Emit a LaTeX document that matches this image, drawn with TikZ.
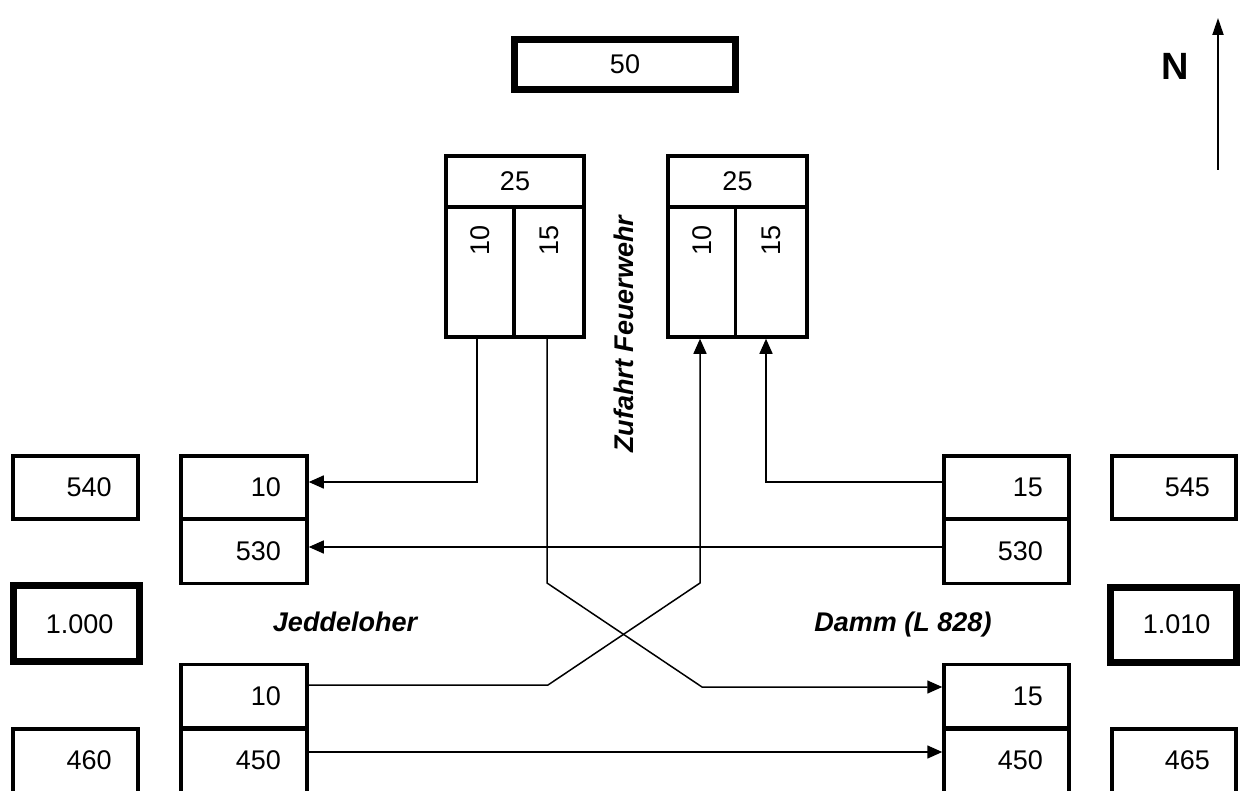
\documentclass[tikz,border=0pt]{standalone}
\usepackage{fontspec}
\setmainfont{Liberation Sans}
\usetikzlibrary{arrows.meta,calc}
\begin{document}
\begin{tikzpicture}[x=1pt,y=-1pt,
  every node/.style={font=\fontsize{27}{32}\selectfont},
  numbox/.style={draw, line width=3.5pt, inner xsep=26pt, inner ysep=0pt, text width=73pt, align=right, minimum height=63pt},
  thickbox/.style={numbox, line width=7pt, text width=74pt, minimum height=76pt},
  openbox/.style={numbox, anchor=north, minimum height=0pt, text height=41pt, text depth=80pt},
  cellbox/.style={draw, line width=3.5pt, inner sep=0pt},
  lbl/.style={font=\fontsize{27}{32}\selectfont\bfseries\itshape},
  conn/.style={line width=1.5pt},
  arr/.style={conn, -{Triangle[length=15pt,width=13pt]}},
]
\useasboundingbox (0,0) rectangle (1241,791);
\clip (0,0) rectangle (1241,791);

% top box
\node[draw, line width=6.5pt, minimum width=221pt, minimum height=50pt, inner sep=0pt] (b50) at (625,64.6) {50};

% left 25 box
\node[cellbox, minimum width=138pt, minimum height=51pt] (lh) at (515,181.5) {25};
\node[cellbox, minimum width=68pt, minimum height=130pt] (lc1) at (480,272) {};
\node[cellbox, minimum width=70pt, minimum height=130pt] (lc2) at (549,272) {};
\node[rotate=90, anchor=east, inner sep=0pt] (lt1) at ($(lc1.north)+(0,20)$) {10};
\node[rotate=90, anchor=east, inner sep=0pt] (lt2) at ($(lc2.north)+(0,20)$) {15};

% right 25 box
\node[cellbox, minimum width=139pt, minimum height=51pt] (rh) at (737.5,181.5) {25};
\node[cellbox, minimum width=67.5pt, minimum height=130pt] (rc1) at (701.75,272) {};
\node[cellbox, minimum width=71.5pt, minimum height=130pt] (rc2) at (771.25,272) {};
\node[rotate=90, anchor=east, inner sep=0pt] (rt1) at ($(rc1.north)+(0,20)$) {10};
\node[rotate=90, anchor=east, inner sep=0pt] (rt2) at ($(rc2.north)+(0,20)$) {15};

% labels
\node[lbl, rotate=90] (zf) at (624,334) {Zufahrt Feuerwehr};
\node[lbl, anchor=base] (jd) at (345,631) {Jeddeloher};
\node[lbl, anchor=base] (dm) at (903,631) {Damm (L 828)};

% north arrow
\node[font=\fontsize{38}{44}\selectfont\bfseries] (N) at (1175,66) {N};
\coordinate (ns) at (1218,170);
\coordinate (nn) at (1218,18);
\draw[line width=2pt, -{Triangle[length=17pt,width=11pt]}] (ns) -- (nn);

% left boxes
\node[numbox] (l540) at (75.25,487.5) {540};
\node[numbox, text width=74pt] (l10) at (244,487.5) {10};
\node[numbox, text width=74pt, minimum height=64pt] (l530) at (244,551.25) {530};
\node[thickbox] (l1000) at (76.5,623.75) {1.000};
\node[numbox, text width=74pt] (l10b) at (244,696) {10};
\node[openbox, text width=74pt] (l450) at (244,727) {450};
\node[openbox] (l460) at (75.25,727) {460};

% right boxes
\node[numbox] (r15) at (1006.5,487.5) {15};
\node[numbox, minimum height=64pt] (r530) at (1006.5,551.25) {530};
\node[numbox, text width=72pt] (r545) at (1174,487.5) {545};
\node[thickbox, minimum height=75pt] (r1010) at (1173.5,624.5) {1.010};
\node[numbox] (r15b) at (1006.5,696) {15};
\node[openbox] (r450) at (1006.5,727) {450};
\node[openbox, text width=72pt] (r465) at (1174,727) {465};

% bends
\coordinate (xa) at (547,583);
\coordinate (xb) at (702,687);
\coordinate (xc) at (548,685);
\coordinate (xd) at (700,583);

% connectors
\draw[arr] (lc1.south -| 477,0) |- (l10.east |- 0,482);
\draw[arr] (r530.west |- 0,547) -- (l530.east |- 0,547);
\draw[arr] (lc2.south -| 547,0) -- (xa) -- (xb) -- (r15b.west |- xb);
\draw[arr] (l10b.east |- xc) -- (xc) -- (xd) -- (rc1.south -| xd);
\draw[arr] (r15.west |- 0,482) -| (rc2.south -| 766,0);
\draw[arr] (l450.east |- 0,752) -- (r450.west |- 0,752);
\end{tikzpicture}
\end{document}
